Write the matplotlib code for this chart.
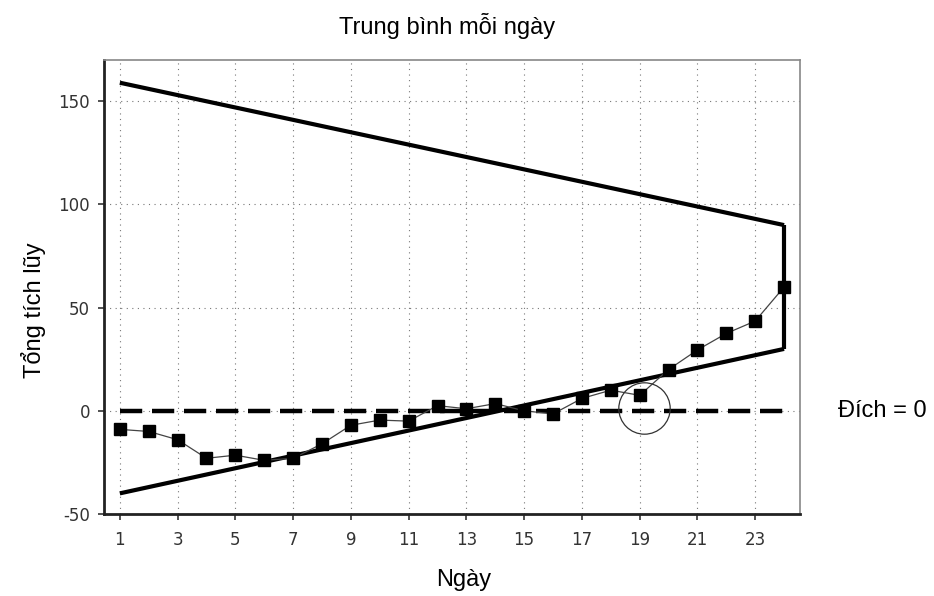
import numpy as np
import matplotlib
matplotlib.use("Agg")
import matplotlib.pyplot as plt

# ---------------------------------------------
# Data
# ---------------------------------------------
days = list(range(1, 25))
cusum = [-9, -10, -14, -23, -21.5, -24, -23, -16, -7, -4.5, -5, 2.5,
         1, 3.5, 0, -1.5, 6, 10, 7.5, 20, 29.5, 37.5, 43.5, 60]
upper_start, upper_end = 159, 90
lower_start, lower_end = -40, 30
target = 0
flagged_day = 19

x_ticks = list(range(1, 24, 2))
y_ticks = [-50, 0, 50, 100, 150]

# ---------------------------------------------
# Figure
# ---------------------------------------------
plt.rcParams['font.family'] = ['Liberation Sans', 'DejaVu Sans']
plt.rcParams['axes.unicode_minus'] = False
fig = plt.figure(figsize=(9.34, 5.96), dpi=100)
ax = fig.add_axes([0.1113, 0.1376, 0.7452, 0.7617])

# V-mask arms
first, last = days[0], days[-1]
ax.plot([first, last], [upper_start, upper_end], color='black', lw=3, solid_capstyle='butt', zorder=3)
ax.plot([first, last], [lower_start, lower_end], color='black', lw=3, solid_capstyle='butt', zorder=3)
ax.plot([last, last], [lower_end, upper_end], color='black', lw=3, solid_capstyle='butt', zorder=3)

# target line
ax.plot([first, last], [target, target], color='black', lw=3.2, dashes=(5, 2.2), zorder=2)

# cumulative sums
ax.plot(days, cusum, color='#444444', lw=0.9, marker='s', ms=8.8,
        mfc='black', mec='black', zorder=4)

# circle round the out-of-mask day
ax.plot(flagged_day + 0.15, 1.5, marker='o', ms=37, mfc='none', mec='#333333', mew=0.9, zorder=5)

ax.set_xlim(0.45, 24.55)
ax.set_ylim(-50, 170)
ax.set_xticks(x_ticks)
ax.set_yticks(y_ticks)
ax.tick_params(direction='out', length=4, width=1.2, colors='#333333', labelsize=12)
ax.tick_params(axis='x', pad=8)
ax.tick_params(axis='y', pad=6)
for lab in ax.get_xticklabels() + ax.get_yticklabels():
    lab.set_family('DejaVu Sans')
    lab.set_color('#333333')

ax.grid(True, color='#777777', linestyle=(0, (1, 4)), lw=0.8)
ax.set_axisbelow(True)

for side in ['left', 'bottom']:
    ax.spines[side].set_linewidth(2)
    ax.spines[side].set_color('#222222')
for side in ['top', 'right']:
    ax.spines[side].set_linewidth(1.2)
    ax.spines[side].set_color('#888888')

fig.text(0.479, 0.956, 'Trung bình mỗi ngày', ha='center', va='center', fontsize=17)
fig.text(0.496, 0.027, 'Ngày', ha='center', va='center', fontsize=17)
fig.text(0.036, 0.48, 'Tổng tích lũy', ha='center', va='center', fontsize=17, rotation=90)
fig.text(0.897, 0.31, 'Đích = 0', ha='left', va='center', fontsize=17)

fig.savefig('out.png', dpi=100)
